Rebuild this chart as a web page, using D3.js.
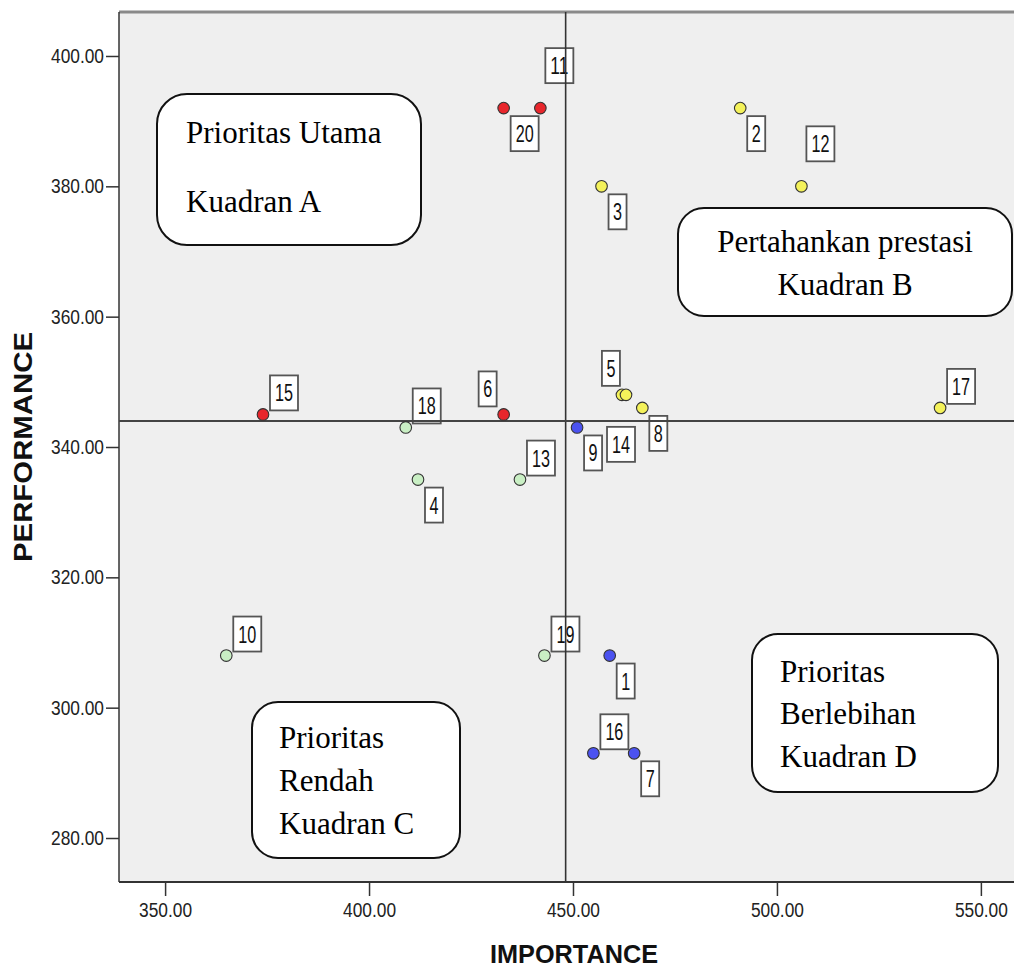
<!DOCTYPE html>
<html>
<head>
<meta charset="utf-8">
<script src="https://cdn.jsdelivr.net/npm/d3@7/dist/d3.min.js"></script>
<style>
  html, body { margin: 0; padding: 0; background: #ffffff; }
  svg { display: block; }
</style>
</head>
<body>
<svg id="chart" width="1014" height="969"></svg>
<script>
// ---- data ----
const ids         = [1, 2, 3, 4, 5, 6, 7, 8, 9, 10, 11, 12, 13, 14, 15, 16, 17, 18, 19, 20];
const importance  = [459, 491, 457, 412, 462, 433, 465, 467, 451, 365, 442, 506, 437, 463, 374, 455, 540, 409, 443, 433];
const performance = [308, 392, 380, 335, 348, 345, 293, 346, 343, 308, 392, 380, 335, 348, 345, 293, 346, 343, 308, 392];
const quadrant    = ['D', 'B', 'B', 'C', 'B', 'A', 'D', 'B', 'D', 'C', 'A', 'B', 'C', 'B', 'A', 'D', 'B', 'C', 'C', 'A'];
// label placement code for each point label
const labelPlace  = ['se', 'se', 'se', 'se', 'nwc', 'nw', 'se', 'se', 'se', 'ne', 'nn', 'nn', 'ne', 'ss', 'ne', 'ne', 'ne', 'ne', 'ne', 'se'];
const refImportance = 448.2;
const refPerformance = 344;
const xTicks = [350, 400, 450, 500, 550];
const yTicks = [280, 300, 320, 340, 360, 380, 400];
const xTitle = 'IMPORTANCE';
const yTitle = 'PERFORMANCE';
const quadrantTitles = {
  A: ['Prioritas Utama', 'Kuadran A'],
  B: ['Pertahankan prestasi', 'Kuadran B'],
  C: ['Prioritas', 'Rendah', 'Kuadran C'],
  D: ['Prioritas', 'Berlebihan', 'Kuadran D']
};

// ---- styles / layout ----
const colors = { A: '#e8262c', B: '#f4f25a', C: '#c9efc4', D: '#4b52f0' };
const plot = { left: 119, right: 1018, top: 12, bottom: 882 };

const svg = d3.select('#chart');
const x = d3.scaleLinear().domain([338.7, 559.1]).range([plot.left, plot.right]);
const y = d3.scaleLinear().domain([273.25, 406.75]).range([plot.bottom, plot.top]);

// background
svg.append('rect')
  .attr('x', plot.left).attr('y', plot.top)
  .attr('width', plot.right - plot.left).attr('height', plot.bottom - plot.top)
  .attr('fill', '#efefef');

// frame
svg.append('line').attr('x1', plot.left).attr('x2', plot.right).attr('y1', plot.top).attr('y2', plot.top)
  .attr('stroke', '#8a8a8a').attr('stroke-width', 3);
svg.append('line').attr('x1', plot.left).attr('x2', plot.left).attr('y1', plot.top).attr('y2', plot.bottom)
  .attr('stroke', '#333').attr('stroke-width', 1.5);
svg.append('line').attr('x1', plot.left).attr('x2', plot.right).attr('y1', plot.bottom).attr('y2', plot.bottom)
  .attr('stroke', '#333').attr('stroke-width', 2);

// axes
const fmt = d3.format('.2f');
const yAxis = svg.append('g').attr('transform', `translate(${plot.left},0)`)
  .call(d3.axisLeft(y).tickValues(yTicks).tickFormat(fmt).tickSize(13).tickSizeOuter(0).tickPadding(2));
const xAxis = svg.append('g').attr('transform', `translate(0,${plot.bottom})`)
  .call(d3.axisBottom(x).tickValues(xTicks).tickFormat(fmt).tickSize(14).tickSizeOuter(0).tickPadding(6));
[yAxis, xAxis].forEach(g => {
  g.select('.domain').remove();
  g.selectAll('.tick line').attr('stroke', '#333').attr('stroke-width', 1.5);
  g.selectAll('.tick text')
    .attr('fill', '#222')
    .style('font-family', '"Liberation Sans", Arial, sans-serif')
    .style('font-size', '20.5px')
    .attr('textLength', 53).attr('lengthAdjust', 'spacingAndGlyphs');
});

// axis titles
svg.append('text')
  .attr('x', 574).attr('y', 963)
  .attr('text-anchor', 'middle')
  .style('font-family', '"Liberation Sans", Arial, sans-serif')
  .style('font-weight', 'bold').style('font-size', '25px')
  .attr('textLength', 168).attr('lengthAdjust', 'spacingAndGlyphs')
  .attr('fill', '#111')
  .text(xTitle);
svg.append('text')
  .attr('transform', 'translate(32,447) rotate(-90)')
  .attr('text-anchor', 'middle')
  .style('font-family', '"Liberation Sans", Arial, sans-serif')
  .style('font-weight', 'bold').style('font-size', '26px')
  .attr('textLength', 230).attr('lengthAdjust', 'spacingAndGlyphs')
  .attr('fill', '#111')
  .text(yTitle);

// quadrant annotation boxes
const boxes = [
  { q: 'A', x0: 157, y0: 94, x1: 421, y1: 245, rx: 30, anchor: 'start', tx: 186, base: [143, 212] },
  { q: 'B', x0: 678, y0: 208, x1: 1012, y1: 316, rx: 26, anchor: 'middle', tx: 845, base: [252, 295] },
  { q: 'C', x0: 252, y0: 702, x1: 460, y1: 858, rx: 26, anchor: 'start', tx: 279, base: [748, 791, 834] },
  { q: 'D', x0: 752, y0: 634, x1: 998, y1: 792, rx: 26, anchor: 'start', tx: 780, base: [682, 724, 767] }
];
boxes.forEach(b => {
  svg.append('rect')
    .attr('x', b.x0).attr('y', b.y0).attr('width', b.x1 - b.x0).attr('height', b.y1 - b.y0)
    .attr('rx', b.rx).attr('ry', b.rx)
    .attr('fill', '#ffffff').attr('stroke', '#111').attr('stroke-width', 2);
  quadrantTitles[b.q].forEach((t, i) => {
    svg.append('text')
      .attr('x', b.tx).attr('y', b.base[i])
      .attr('text-anchor', b.anchor)
      .style('font-family', '"Liberation Serif", "Times New Roman", serif')
      .style('font-size', '31px')
      .attr('fill', '#000')
      .text(t);
  });
});

// point data
const pts = ids.map((id, i) => ({
  id, imp: importance[i], perf: performance[i], q: quadrant[i], place: labelPlace[i]
}));

// label boxes
const boxH = 35;
function labelBox(d) {
  const px = x(d.imp), py = y(d.perf);
  const w = String(d.id).length === 1 ? 18 : 28;
  let left, top;
  switch (d.place) {
    case 'ne':  left = px + 7;  top = py - 4 - boxH; break;
    case 'se':  left = px + 7;  top = py + 8; break;
    case 'nw':  left = px - 7 - w; top = py - 8 - boxH; break;
    case 'nwc': left = px - 2 - w; top = py - 9 - boxH; break;
    case 'nn':  left = px + 5;  top = py - 25 - boxH; break;
    case 'ss':  left = px - 5 - w / 2; top = py + 32; break;
  }
  return { left, top, w };
}
const lab = svg.append('g');
pts.forEach(d => {
  const b = labelBox(d);
  lab.append('rect')
    .attr('x', b.left).attr('y', b.top).attr('width', b.w).attr('height', boxH)
    .attr('fill', '#ffffff').attr('stroke', '#555').attr('stroke-width', 1.8);
  lab.append('text')
    .attr('x', b.left + b.w / 2).attr('y', b.top + 26)
    .attr('text-anchor', 'middle')
    .style('font-family', '"Liberation Sans", Arial, sans-serif')
    .style('font-size', '23px')
    .attr('textLength', String(d.id).length * 9).attr('lengthAdjust', 'spacingAndGlyphs')
    .attr('fill', '#111')
    .text(d.id);
});

// reference lines
svg.append('line')
  .attr('x1', x(refImportance)).attr('x2', x(refImportance))
  .attr('y1', plot.top).attr('y2', plot.bottom)
  .attr('stroke', '#333').attr('stroke-width', 1.6);
svg.append('line')
  .attr('x1', plot.left).attr('x2', plot.right)
  .attr('y1', y(refPerformance)).attr('y2', y(refPerformance))
  .attr('stroke', '#444').attr('stroke-width', 2);

// points
svg.append('g').selectAll('circle')
  .data(pts)
  .join('circle')
  .attr('cx', d => x(d.imp))
  .attr('cy', d => y(d.perf))
  .attr('r', 5.8)
  .attr('fill', d => colors[d.q])
  .attr('stroke', '#333')
  .attr('stroke-width', 1.1);
</script>
</body>
</html>
